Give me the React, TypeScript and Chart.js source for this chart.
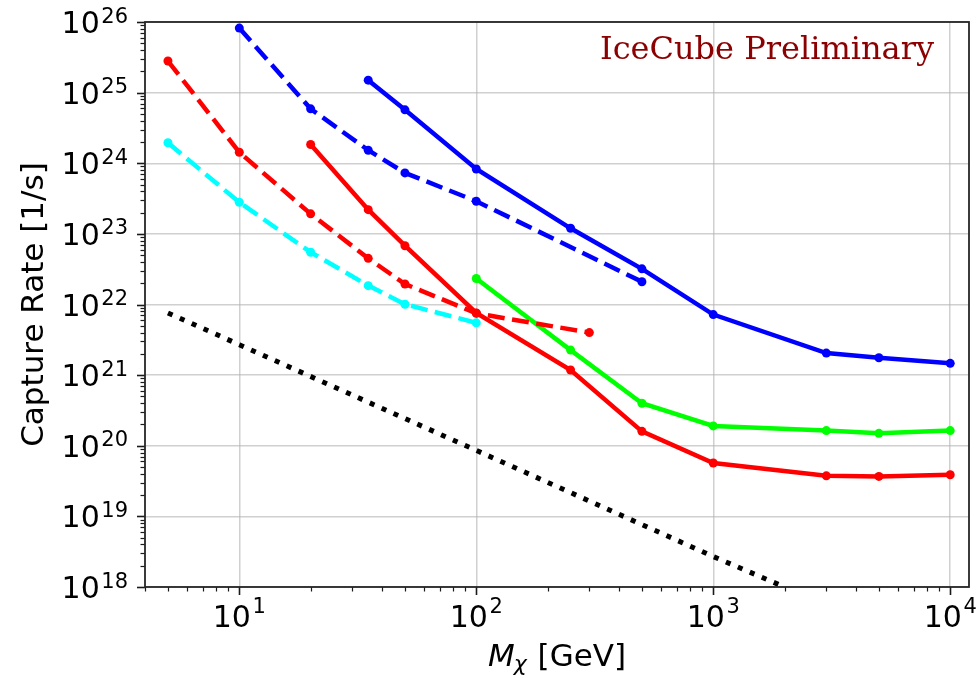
import React, { useEffect, useRef } from "react";
import { Chart, registerables } from "chart.js";

Chart.register(...registerables);

// ---- data ----
const blueSolidMass = [35, 50, 100, 250, 500, 1000, 3000, 5000, 10000];
const blueSolidRate = [1.5e25, 5.7e24, 8.3e23, 1.2e23, 3.2e22, 7.2e21, 2.05e21, 1.76e21, 1.47e21];

const blueDashedMass = [10, 20, 35, 50, 100, 500];
const blueDashedRate = [8.2e25, 5.9e24, 1.53e24, 7.3e23, 2.9e23, 2.1e22];

const redSolidMass = [20, 35, 50, 100, 250, 500, 1000, 3000, 5000, 10000];
const redSolidRate = [1.84e24, 2.2e23, 6.8e22, 7.6e21, 1.18e21, 1.6e20, 5.7e19, 3.75e19, 3.68e19, 3.88e19];

const redDashedMass = [5, 10, 20, 35, 50, 100, 300];
const redDashedRate = [2.8e25, 1.43e24, 1.92e23, 4.5e22, 1.95e22, 7.5e21, 4.0e21];

const cyanDashedMass = [5, 10, 20, 35, 50, 100];
const cyanDashedRate = [1.95e24, 2.8e23, 5.5e22, 1.85e22, 1.01e22, 5.5e21];

const greenSolidMass = [100, 250, 500, 1000, 3000, 5000, 10000];
const greenSolidRate = [2.33e22, 2.26e21, 4.0e20, 1.91e20, 1.64e20, 1.5e20, 1.64e20];

const dottedMass = [5, 10, 100, 1000, 2000];
const dottedRate = [7.6e21, 2.7e21, 8.6e19, 2.7e18, 1.0e18];

const xMin = 4;
const xMax = 12000;
const yMin = 1e18;
const yMax = 1e26;
const xMajorTicks = [10, 100, 1000, 10000];
const yMajorTicks = [1e18, 1e19, 1e20, 1e21, 1e22, 1e23, 1e24, 1e25, 1e26];
const tickBase = "10";

const yTitle = "Capture Rate [1/s]";
const xTitleMain = "M";
const xTitleSub = "χ";
const xTitleUnit = " [GeV]";
const annotation = "IceCube Preliminary";

const pts = (m: number[], r: number[]) => m.map((v, i) => ({ x: v, y: r[i] }));

const SANS = '"DejaVu Sans"';

const decorPlugin = {
  id: "decor",
  afterDraw(chart: any) {
    const { ctx, chartArea } = chart;
    const { left, right, top, bottom } = chartArea;
    const xs = chart.scales.x;
    const ys = chart.scales.y;
    ctx.save();

    // tick marks (major + minor), outward
    ctx.strokeStyle = "#1a1a1a";
    for (let n = 0; n <= 4; n++) {
      for (let k = 1; k <= 9; k++) {
        const v = k * Math.pow(10, n);
        if (v < xMin || v > xMax) continue;
        const px = Math.round(xs.getPixelForValue(v)) + 0.5;
        const len = k === 1 ? 8 : 4.5;
        ctx.lineWidth = k === 1 ? 1.6 : 1.2;
        ctx.beginPath();
        ctx.moveTo(px, bottom);
        ctx.lineTo(px, bottom + len);
        ctx.stroke();
      }
    }
    for (let n = 18; n <= 26; n++) {
      for (let k = 1; k <= 9; k++) {
        const v = k * Math.pow(10, n);
        if (v < yMin || v > yMax * 1.0001) continue;
        const py = Math.round(ys.getPixelForValue(v)) + 0.5;
        const len = k === 1 ? 8 : 4.5;
        ctx.lineWidth = k === 1 ? 1.6 : 1.2;
        ctx.beginPath();
        ctx.moveTo(left, py);
        ctx.lineTo(left - len, py);
        ctx.stroke();
      }
    }

    // frame
    ctx.strokeStyle = "#262626";
    ctx.lineWidth = 1.8;
    ctx.strokeRect(left, top, right - left, bottom - top);

    // tick labels
    ctx.fillStyle = "#000";
    ctx.textBaseline = "alphabetic";
    ctx.textAlign = "left";
    const baseFont = `30px ${SANS}`;
    const expFont = `21px ${SANS}`;
    const gap = 1.5;

    yMajorTicks.forEach((v) => {
      const e = String(Math.round(Math.log10(v)));
      const py = ys.getPixelForValue(v);
      ctx.font = expFont;
      const ew = ctx.measureText(e).width;
      ctx.font = baseFont;
      const bw = ctx.measureText(tickBase).width;
      const xr = left - 17;
      const ex = xr - ew;
      const bx = ex - gap - bw;
      ctx.fillText(tickBase, bx, py + 11);
      ctx.font = expFont;
      ctx.fillText(e, ex, py + 0.5);
    });

    xMajorTicks.forEach((v) => {
      const e = String(Math.round(Math.log10(v)));
      const px = xs.getPixelForValue(v);
      ctx.font = expFont;
      const ew = ctx.measureText(e).width;
      ctx.font = baseFont;
      const bw = ctx.measureText(tickBase).width;
      const total = bw + gap + ew;
      const sx = px - total / 2;
      ctx.fillText(tickBase, sx, bottom + 40);
      ctx.font = expFont;
      ctx.fillText(e, sx + bw + gap, bottom + 26);
    });

    // x title
    const mainFont = `italic 31px ${SANS}`;
    const subFont = `italic 22px ${SANS}`;
    const unitFont = `31px ${SANS}`;
    ctx.font = mainFont;
    const mw = ctx.measureText(xTitleMain).width;
    ctx.font = subFont;
    const sw = ctx.measureText(xTitleSub).width;
    ctx.font = unitFont;
    const uw = ctx.measureText(xTitleUnit).width;
    const tw = mw + sw + uw;
    let tx = (left + right) / 2 - tw / 2;
    const tb = bottom + 79;
    ctx.font = mainFont;
    ctx.fillText(xTitleMain, tx, tb);
    tx += mw;
    ctx.font = subFont;
    ctx.fillText(xTitleSub, tx - 1, tb + 5);
    tx += sw;
    ctx.font = unitFont;
    ctx.fillText(xTitleUnit, tx, tb);

    // y title
    ctx.save();
    ctx.translate(43, (top + bottom) / 2);
    ctx.rotate(-Math.PI / 2);
    ctx.textAlign = "center";
    ctx.font = `31px ${SANS}`;
    ctx.fillText(yTitle, 0, 0);
    ctx.restore();

    // annotation
    ctx.font = `32px "DejaVu Serif"`;
    ctx.fillStyle = "#8b0000";
    ctx.textAlign = "left";
    ctx.fillText(annotation, 600, 59);

    ctx.restore();
  },
};

function makeSet(data: any[], color: string, dash: number[], width: number, radius: number) {
  return {
    data,
    borderColor: color,
    backgroundColor: color,
    borderWidth: width,
    borderDash: dash,
    borderCapStyle: "butt",
    pointRadius: radius,
    pointBorderWidth: 0,
    pointHoverRadius: radius,
    pointBackgroundColor: color,
    tension: 0,
    fill: false,
    clip: 0,
  };
}

export default function App() {
  const ref = useRef<HTMLCanvasElement | null>(null);

  useEffect(() => {
    if (!ref.current) return;
    const dashed = [17, 7.5];
    const chart = new Chart(ref.current, {
      type: "line",
      data: {
        datasets: [
          makeSet(pts(blueSolidMass, blueSolidRate), "#0000ff", [], 4.5, 4.5),
          makeSet(pts(blueDashedMass, blueDashedRate), "#0000ff", dashed, 4.5, 4.5),
          makeSet(pts(redSolidMass, redSolidRate), "#ff0000", [], 4.5, 4.5),
          makeSet(pts(redDashedMass, redDashedRate), "#ff0000", dashed, 4.5, 4.5),
          makeSet(pts(cyanDashedMass, cyanDashedRate), "#00ffff", dashed, 4.5, 4.5),
          makeSet(pts(greenSolidMass, greenSolidRate), "#00ff00", [], 4.5, 4.5),
          makeSet(pts(dottedMass, dottedRate), "#000000", [5, 8], 5, 0),
        ] as any,
      },
      options: {
        animation: false,
        responsive: false,
        devicePixelRatio: 1,
        layout: { padding: { left: 145, top: 22, right: 7, bottom: 91 } },
        plugins: { legend: { display: false }, tooltip: { enabled: false } },
        events: [],
        scales: {
          x: {
            type: "logarithmic",
            min: xMin,
            max: xMax,
            afterBuildTicks: (s: any) => {
              s.ticks = xMajorTicks.map((v) => ({ value: v }));
            },
            ticks: { display: false },
            grid: { color: "rgba(176,176,176,0.6)", lineWidth: 1.5, drawTicks: false },
            border: { display: false },
          },
          y: {
            type: "logarithmic",
            min: yMin,
            max: yMax,
            afterBuildTicks: (s: any) => {
              s.ticks = yMajorTicks.map((v) => ({ value: v }));
            },
            ticks: { display: false },
            grid: { color: "rgba(176,176,176,0.6)", lineWidth: 1.5, drawTicks: false },
            border: { display: false },
          },
        },
      } as any,
      plugins: [decorPlugin],
    });
    return () => chart.destroy();
  }, []);

  return (
    <div style={{ position: "fixed", left: 0, top: 0, width: 976, height: 678, background: "#fff" }}>
      <canvas ref={ref} width={976} height={678} style={{ display: "block" }} />
    </div>
  );
}
